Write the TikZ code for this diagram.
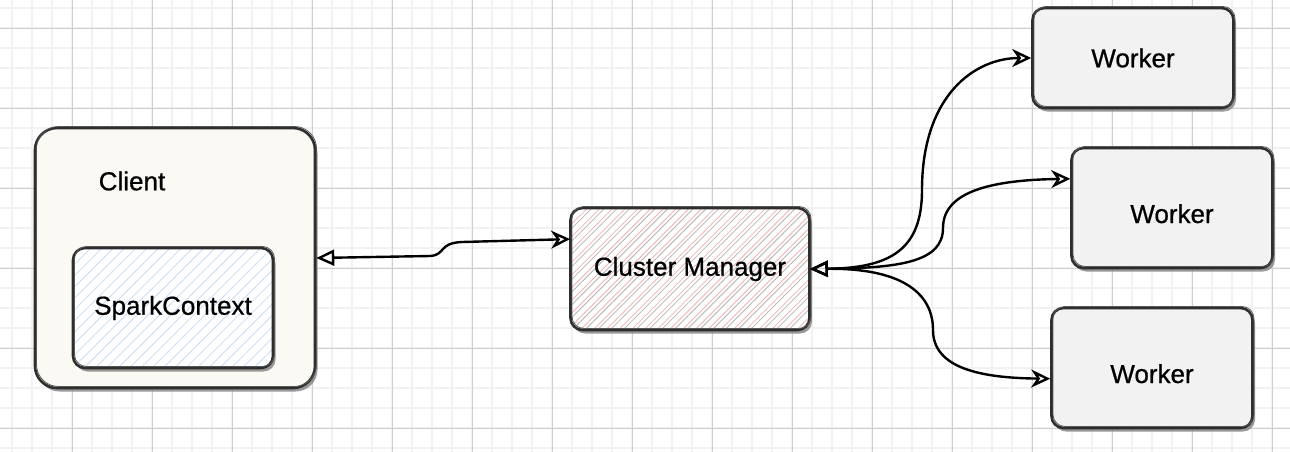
\documentclass[tikz,border=0pt]{standalone}
\usepackage{fontspec}
\setmainfont{Liberation Sans}[FakeBold=0.7]
\usetikzlibrary{arrows.meta,patterns.meta,shadows}

\definecolor{gridminor}{HTML}{F1F1F1}
\definecolor{gridmajor}{HTML}{CFCFCF}
\definecolor{boxline}{HTML}{2E2E2E}
\definecolor{clientfill}{HTML}{FAF9F3}
\definecolor{workerfill}{HTML}{F2F2F2}
\definecolor{schatch}{HTML}{C9DCF6}
\definecolor{cmpink}{HTML}{EFB3B3}
\definecolor{cmgray}{HTML}{B4B4B4}

\begin{document}
\begin{tikzpicture}[
  x=1pt, y=-1pt,
  every node/.style={font=\fontsize{26}{30}\selectfont},
  box/.style={draw=boxline, line width=2.6pt, inner sep=0pt, rounded corners=12pt,
    drop shadow={shadow xshift=2.5pt, shadow yshift=-3.5pt, fill=black!50, opacity=0.8},
    postaction={draw=boxline!80, line width=0.8pt, transform canvas={shift={(1.5pt,1.5pt)}}}},
  clientbox/.style={box, fill=clientfill, rounded corners=22pt,
    minimum width=280pt, minimum height=260pt},
  ctxbox/.style={box, preaction={fill=white},
    pattern={Lines[angle=45, distance=8pt, line width=0.8pt]}, pattern color=schatch,
    minimum width=200pt, minimum height=120pt},
  mgrbox/.style={box, preaction={fill=white},
    preaction={pattern={Lines[angle=45, distance=9pt, xshift=4.5pt, line width=0.8pt]}, pattern color=cmgray},
    pattern={Lines[angle=45, distance=9pt, line width=0.8pt]}, pattern color=cmpink,
    minimum width=239pt, minimum height=122pt},
  workerbox/.style={box, fill=workerfill, minimum width=201pt, minimum height=120pt},
  lowtext/.style={text height=30pt, text depth=0pt},
  link/.style={draw=black, line width=2.4pt,
    {Triangle[open, length=18pt, width=16pt]}-{Stealth[open, length=19pt, width=18pt, inset=6pt]}}
]
  \useasboundingbox (0,0) rectangle (1290,452);

  % grid
  \fill[white] (0,0) rectangle (1290,452);
  \foreach \x in {12,32,...,1292} \draw[gridminor, line width=1.4pt] (\x,0) -- (\x,452);
  \foreach \y in {8,28,...,448} \draw[gridminor, line width=1.4pt] (0,\y) -- (1290,\y);
  \foreach \x in {72,152,...,1272} \draw[gridmajor, line width=0.8pt] (\x,0) -- (\x,452);
  \foreach \y in {28,108,...,428} \draw[gridmajor, line width=0.8pt] (0,\y) -- (1290,\y);

  % client side
  \node[clientbox] (client) at (175,258) {};
  \node (clientlabel) at (132,181) {Client};
  \node[ctxbox] (ctx) at (173,308) {SparkContext};

  % cluster manager
  \node[mgrbox] (mgr) at (690,269) {Cluster Manager};

  % workers
  \node[workerbox, minimum height=100pt] (worker1) at (1133,58) {Worker};
  \node[workerbox, lowtext] (worker2) at (1172,208) {Worker};
  \node[workerbox, lowtext] (worker3) at (1152,368) {Worker};

  % connectors
  \draw[link] (client.east) -- (430,256) .. controls (446,255) and (438,243) .. (462,242) -- (mgr.166);
  \draw[link] (mgr.east) .. controls (890,268) and (922,250) .. (922,190)
    .. controls (922,95) and (975,58) .. (worker1.west);
  \draw[link] (mgr.east) .. controls (900,268) and (943,262) .. (943,228)
    .. controls (943,192) and (990,180) .. (worker2.164);
  \draw[link] (mgr.east) .. controls (900,268) and (933,292) .. (933,330)
    .. controls (933,368) and (980,378) .. (worker3.186);
\end{tikzpicture}
\end{document}
